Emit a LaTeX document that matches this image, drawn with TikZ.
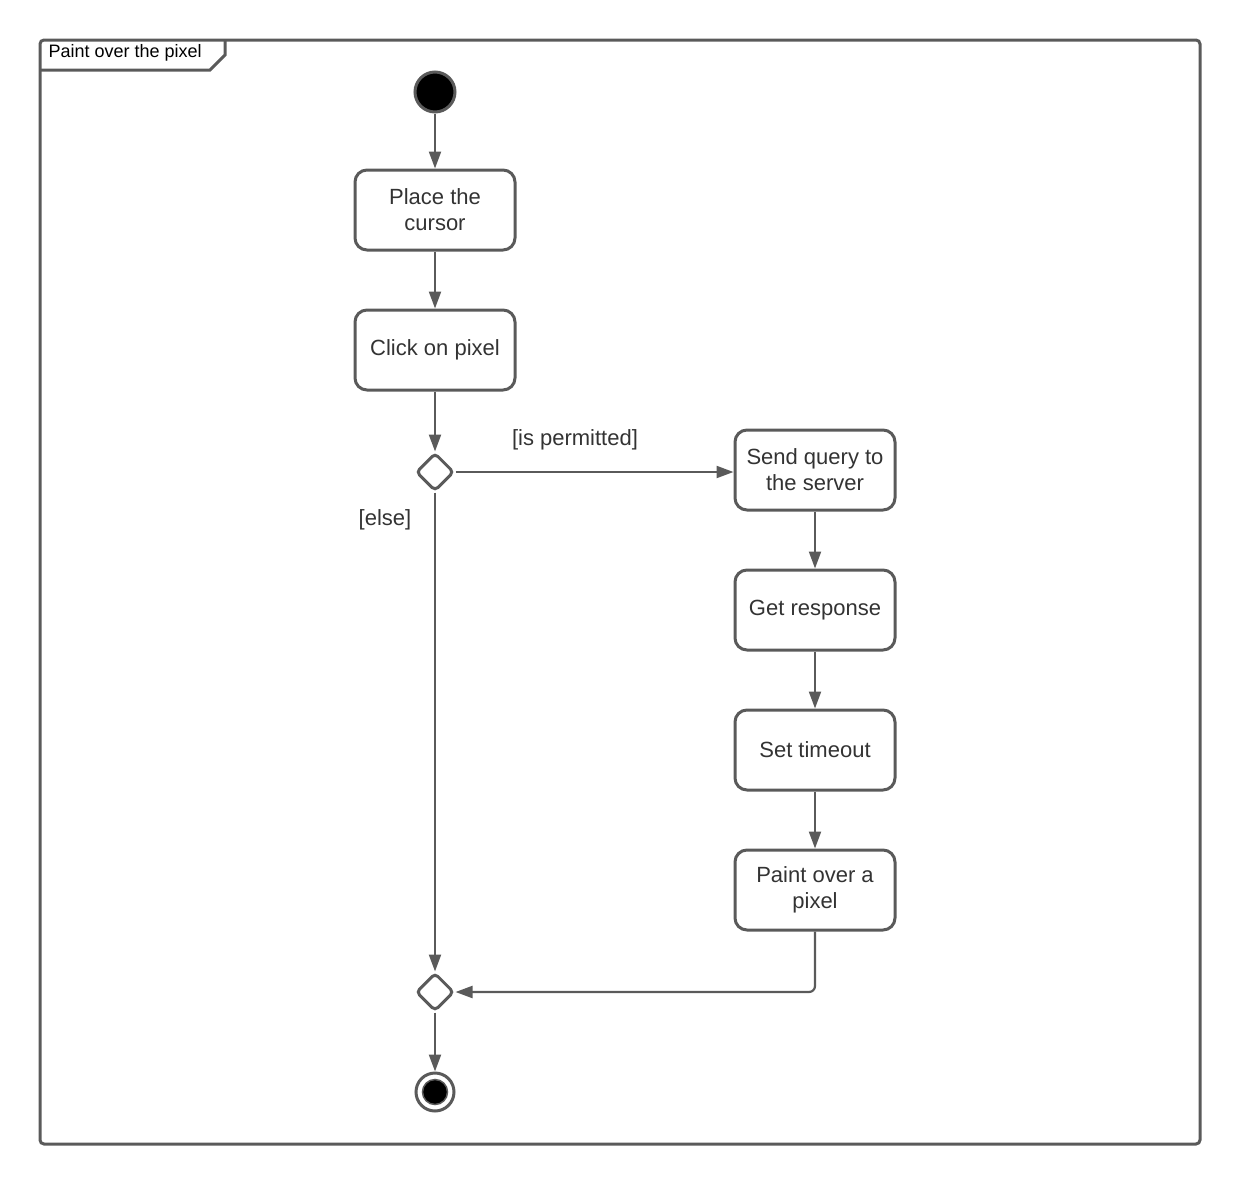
\documentclass[tikz,border=0pt]{standalone}
\usepackage{fontspec}
\setmainfont{Liberation Sans}
\usetikzlibrary{shapes.geometric,arrows.meta}
\definecolor{edge}{HTML}{5A5A5A}
\definecolor{ink}{HTML}{333333}
\begin{document}
\begin{tikzpicture}[x=1pt,y=-1pt,
  every node/.style={text=ink},
  action/.style={draw=edge,line width=3pt,rounded corners=12pt,fill=white,
    minimum width=160pt,minimum height=80pt,align=center,font=\fontsize{22}{26}\selectfont,inner sep=4pt},
  choice/.style={draw=edge,line width=3pt,diamond,minimum width=38pt,minimum height=38pt,
    inner sep=0pt,rounded corners=4pt,fill=white},
  flow/.style={draw=edge,line width=2.2pt,-{Triangle[length=17pt,width=12pt]}},
  guard/.style={font=\fontsize{22}{24}\selectfont}]
\useasboundingbox (0,0) rectangle (1240,1186);
% frame and its name tab
\draw[edge,line width=3pt,rounded corners=4pt] (40,40) rectangle (1200,1144);
\draw[edge,line width=3pt] (225,40) -- (225,55) -- (210,70) -- (40,70);
\node[anchor=west,font=\fontsize{18}{20}\selectfont,text=black] (title) at (45,53) {Paint over the pixel};
% start and end nodes
\node[circle,draw=edge,line width=3pt,fill=black,minimum size=40pt,inner sep=0pt] (start) at (435,92) {};
\node[circle,draw=edge,line width=3pt,fill=white,minimum size=38pt,inner sep=0pt] (stop) at (435,1092) {};
\node[circle,draw=edge,line width=1.5pt,fill=black,minimum size=25pt,inner sep=0pt] (stopdot) at (435,1092) {};
% actions
\node[action] (place) at (435,210) {Place the\\cursor};
\node[action] (click) at (435,350) {Click on pixel};
\node[action] (send) at (815,470) {Send query to\\the server};
\node[action] (get) at (815,610) {Get response};
\node[action] (timeout) at (815,750) {Set timeout};
\node[action] (paint) at (815,890) {Paint over a\\pixel};
% decision and merge
\node[choice] (dec) at (435,472) {};
\node[choice] (merge) at (435,992) {};
% guards
\node[guard] (gyes) at (575,440) {[is permitted]};
\node[guard] (gno) at (385,520) {[else]};
% flows
\draw[flow] (start) -- (place);
\draw[flow] (place) -- (click);
\draw[flow] (click) -- (dec);
\draw[flow] (dec) -- (dec -| send.west);
\draw[flow] (send) -- (get);
\draw[flow] (get) -- (timeout);
\draw[flow] (timeout) -- (paint);
\draw[flow] (dec) -- (merge);
\draw[flow,rounded corners=6pt] (paint.south) |- (merge.east);
\draw[flow] (merge) -- (stop);
\end{tikzpicture}
\end{document}
